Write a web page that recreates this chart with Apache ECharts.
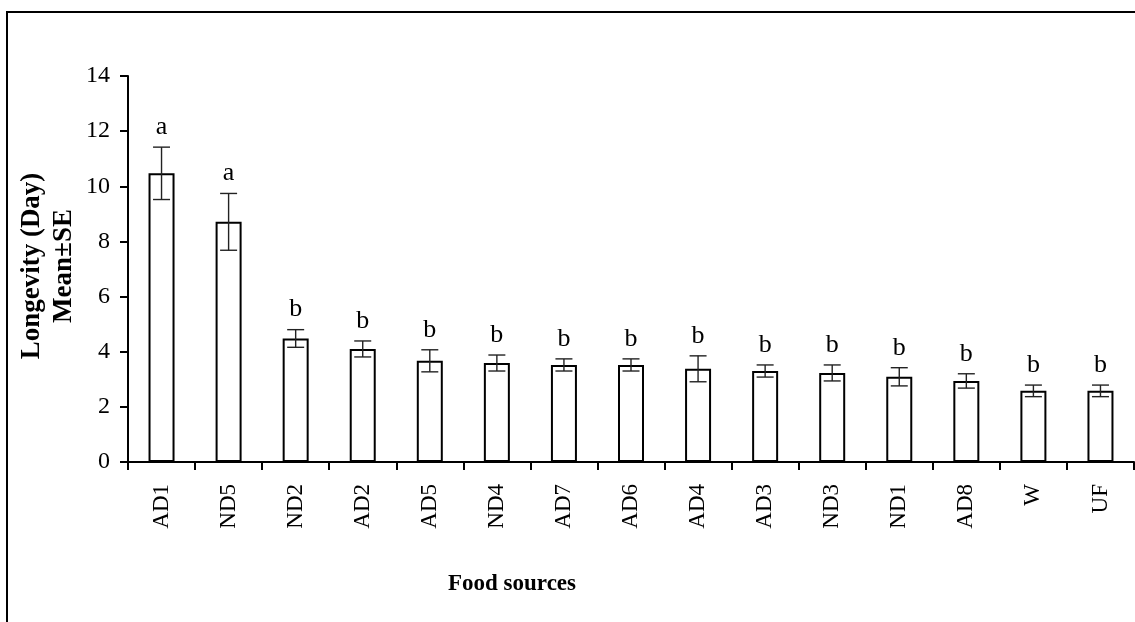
<!DOCTYPE html>
<html>
<head>
<meta charset="utf-8">
<script src="https://cdn.jsdelivr.net/npm/echarts@6/dist/echarts.min.js"></script>
<style>
  html, body { margin: 0; padding: 0; background: #fff; }
  #chart { width: 1135px; height: 622px; }
</style>
</head>
<body>
<div id="chart"></div>
<script>
// Food sources, ordered by mean longevity
const categories = ['AD1', 'ND5', 'ND2', 'AD2', 'AD5', 'ND4', 'AD7', 'AD6', 'AD4', 'AD3', 'ND3', 'ND1', 'AD8', 'W', 'UF'];
// Mean longevity (days)
const means = [10.47, 8.71, 4.48, 4.10, 3.67, 3.59, 3.52, 3.52, 3.38, 3.30, 3.23, 3.09, 2.94, 2.58, 2.58];
// Standard error of the mean
const errors = [0.95, 1.03, 0.32, 0.29, 0.40, 0.29, 0.22, 0.22, 0.47, 0.22, 0.29, 0.33, 0.26, 0.21, 0.21];
// Significance group letters
const groups = ['a', 'a', 'b', 'b', 'b', 'b', 'b', 'b', 'b', 'b', 'b', 'b', 'b', 'b', 'b'];
// Y axis ticks
const yTicks = { min: 0, max: 14, step: 2 };

const serif = '"Liberation Serif", "Times New Roman", serif';

const chart = echarts.init(document.getElementById('chart'), null, { renderer: 'canvas' });

const errData = categories.map((c, i) => [i, means[i], errors[i], groups[i]]);

// Error bar with caps, plus the group letter above it
function renderError(params, api) {
  const i = api.value(0);
  const m = api.value(1);
  const se = api.value(2);
  const top = api.coord([i, m + se]);
  const bot = api.coord([i, m - se]);
  const half = 8.5;
  const style = { stroke: '#222', lineWidth: 1.4 };
  return {
    type: 'group',
    children: [
      { type: 'line', shape: { x1: top[0], y1: top[1], x2: bot[0], y2: bot[1] }, style },
      { type: 'line', shape: { x1: top[0] - half, y1: top[1], x2: top[0] + half, y2: top[1] }, style },
      { type: 'line', shape: { x1: bot[0] - half, y1: bot[1], x2: bot[0] + half, y2: bot[1] }, style },
      {
        type: 'text',
        style: {
          x: top[0], y: top[1] - 7,
          text: api.value(3),
          font: '26px ' + serif,
          fill: '#000',
          align: 'center',
          verticalAlign: 'bottom'
        }
      }
    ]
  };
}

chart.setOption({
  animation: false,
  backgroundColor: '#fff',
  grid: { left: 128, right: 1, top: 76, bottom: 160, containLabel: false },
  xAxis: {
    type: 'category',
    data: categories,
    boundaryGap: true,
    axisLine: { lineStyle: { color: '#000', width: 2 } },
    axisTick: { show: true, length: 8, lineStyle: { color: '#000', width: 2 } },
    axisLabel: {
      rotate: 90,
      margin: 22,
      color: '#000',
      fontFamily: serif,
      fontSize: 23,
      interval: 0
    },
    splitLine: { show: false }
  },
  yAxis: {
    type: 'value',
    min: yTicks.min,
    max: yTicks.max,
    interval: yTicks.step,
    axisLine: { show: true, lineStyle: { color: '#000', width: 2 } },
    axisTick: { show: true, length: 8, lineStyle: { color: '#000', width: 2 } },
    axisLabel: {
      margin: 18,
      color: '#000',
      fontFamily: serif,
      fontSize: 24
    },
    splitLine: { show: false }
  },
  graphic: [
    {
      type: 'rect',
      shape: { x: 7, y: 12, width: 1400, height: 800 },
      style: { fill: 'none', stroke: '#000', lineWidth: 2 },
      silent: true
    },
    {
      // Y axis title, two lines, reading bottom to top
      type: 'text',
      x: 48, y: 266,
      rotation: Math.PI / 2,
      style: {
        text: 'Longevity (Day)\nMean±SE',
        font: 'bold 27px ' + serif,
        lineHeight: 32,
        fill: '#000',
        align: 'center',
        verticalAlign: 'middle'
      }
    },
    {
      type: 'text',
      x: 512, y: 584,
      style: {
        text: 'Food sources',
        font: 'bold 23px ' + serif,
        fill: '#000',
        align: 'center',
        verticalAlign: 'middle'
      }
    }
  ],
  series: [
    {
      type: 'bar',
      data: means,
      barWidth: 26,
      itemStyle: { color: '#fff', borderColor: '#000', borderWidth: 2 },
      silent: true
    },
    {
      type: 'custom',
      data: errData,
      renderItem: renderError,
      encode: { x: 0, y: 1 },
      z: 5,
      silent: true
    }
  ]
});
</script>
</body>
</html>
